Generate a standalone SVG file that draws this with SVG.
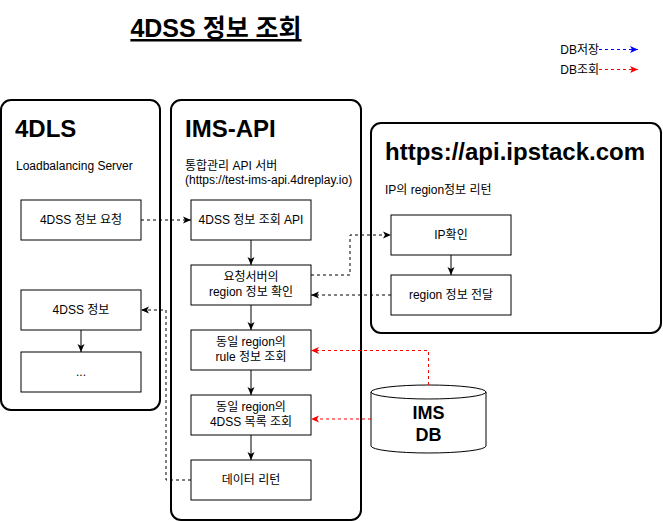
<svg xmlns="http://www.w3.org/2000/svg" width="663" height="522" viewBox="0 0 663 522">
<style>
text{font-family:"Liberation Sans","Noto Sans CJK KR",sans-serif;fill:#000}
.container{fill:#fff;stroke:#000;stroke-width:2}
.box{fill:#fff;stroke:#000;stroke-width:1}
.t12{font-size:12px}
.c{text-anchor:middle}
.h{font-size:24px;font-weight:bold}
.solid{fill:none;stroke:#000;stroke-width:1}
.dash{fill:none;stroke:#000;stroke-width:1;stroke-dasharray:3 3}
.red{fill:none;stroke:#FF0000;stroke-width:1;stroke-dasharray:3 3}
.blue{fill:none;stroke:#0000FF;stroke-width:1;stroke-dasharray:3 3}
</style>
<defs>
<marker id="ak" markerUnits="userSpaceOnUse" markerWidth="10" markerHeight="10" refX="8" refY="4" orient="auto"><path d="M0,0.5 L8,4 L0,7.5 L2,4 Z" fill="#000"/></marker>
<marker id="ar" markerUnits="userSpaceOnUse" markerWidth="10" markerHeight="10" refX="8" refY="4" orient="auto"><path d="M0,0.5 L8,4 L0,7.5 L2,4 Z" fill="#FF0000"/></marker>
<marker id="ab" markerUnits="userSpaceOnUse" markerWidth="10" markerHeight="10" refX="8" refY="4" orient="auto"><path d="M0,0.5 L8,4 L0,7.5 L2,4 Z" fill="#0000FF"/></marker>
</defs>
<rect width="663" height="522" fill="#fff"/>

<g id="title">
<text x="216" y="37" class="c" style="font-size:25px;font-weight:bold;text-decoration:underline">4DSS 정보 조회</text>
</g>

<g id="legend">
<text x="599" y="54" style="font-size:12px" text-anchor="end">DB저장</text>
<line x1="599" y1="49.5" x2="638" y2="49.5" class="blue" marker-end="url(#ab)"/>
<text x="599" y="74" style="font-size:12px" text-anchor="end">DB조회</text>
<line x1="599" y1="69.5" x2="638" y2="69.5" class="red" marker-end="url(#ar)"/>
</g>

<g id="c-4dls">
<rect x="1" y="100" width="159" height="310" rx="10" class="container"/>
<text x="15" y="137" class="h">4DLS</text>
<text x="16" y="170" class="t12">Loadbalancing Server</text>
</g>

<g id="c-imsapi">
<rect x="171" y="100" width="190" height="420" rx="10" class="container"/>
<text x="185" y="137" class="h">IMS-API</text>
<text x="185" y="170" class="t12">통합관리 API 서버</text>
<text x="185" y="184" class="t12">(https://test-ims-api.4dreplay.io)</text>
</g>

<g id="c-ipstack">
<rect x="371" y="123" width="290" height="210" rx="10" class="container"/>
<text x="385" y="160" class="h">https://api.ipstack.com</text>
<text x="385" y="194" class="t12">IP의 region정보 리턴</text>
</g>

<g id="n-req">
<rect x="21" y="200" width="120" height="40" class="box"/>
<text x="81" y="224" class="t12 c">4DSS 정보 요청</text>
</g>
<g id="n-info">
<rect x="21" y="290" width="120" height="40" class="box"/>
<text x="81" y="314" class="t12 c">4DSS 정보</text>
</g>
<g id="n-etc">
<rect x="21" y="352" width="120" height="40" class="box"/>
<text x="81" y="376" class="t12 c">...</text>
</g>

<g id="n-api">
<rect x="191" y="200" width="120" height="40" class="box"/>
<text x="251" y="224" class="t12 c">4DSS 정보 조회 API</text>
</g>
<g id="n-region">
<rect x="191" y="265" width="120" height="40" class="box"/>
<text x="251" y="281" class="t12 c">요청서버의</text>
<text x="251" y="296" class="t12 c">region 정보 확인</text>
</g>
<g id="n-rule">
<rect x="191" y="330" width="120" height="40" class="box"/>
<text x="251" y="346" class="t12 c">동일 region의</text>
<text x="251" y="361" class="t12 c">rule 정보 조회</text>
</g>
<g id="n-list">
<rect x="191" y="395" width="120" height="40" class="box"/>
<text x="251" y="411" class="t12 c">동일 region의</text>
<text x="251" y="426" class="t12 c">4DSS 목록 조회</text>
</g>
<g id="n-return">
<rect x="191" y="460" width="120" height="40" class="box"/>
<text x="251" y="484" class="t12 c">데이터 리턴</text>
</g>

<g id="n-ip">
<rect x="391" y="215" width="120" height="40" class="box"/>
<text x="451" y="239" class="t12 c">IP확인</text>
</g>
<g id="n-send">
<rect x="391" y="275" width="120" height="40" class="box"/>
<text x="451" y="299" class="t12 c">region 정보 전달</text>
</g>

<g id="n-db">
<path d="M371,392 A57.5,7 0 0,1 486,392 V446 A57.5,7 0 0,1 371,446 Z" fill="#fff" stroke="#000" stroke-width="1"/>
<path d="M371,392 A57.5,7 0 0,0 486,392" fill="none" stroke="#000" stroke-width="1"/>
<text x="428.5" y="419" class="c" style="font-size:18px;font-weight:bold">IMS</text>
<text x="428.5" y="441" class="c" style="font-size:18px;font-weight:bold">DB</text>
</g>

<g id="connectors">
<line x1="141" y1="220" x2="191" y2="220" class="dash" marker-end="url(#ak)"/>
<line x1="251" y1="240" x2="251" y2="265" class="solid" marker-end="url(#ak)"/>
<line x1="251" y1="305" x2="251" y2="330" class="solid" marker-end="url(#ak)"/>
<line x1="251" y1="370" x2="251" y2="395" class="solid" marker-end="url(#ak)"/>
<line x1="251" y1="435" x2="251" y2="460" class="solid" marker-end="url(#ak)"/>
<line x1="81" y1="330" x2="81" y2="352" class="solid" marker-end="url(#ak)"/>
<line x1="451" y1="255" x2="451" y2="275" class="solid" marker-end="url(#ak)"/>
<polyline points="311,275 350,275 350,235 391,235" class="dash" marker-end="url(#ak)"/>
<line x1="391" y1="295" x2="311" y2="295" class="dash" marker-end="url(#ak)"/>
<polyline points="191,480 166,480 166,310 141,310" class="dash" marker-end="url(#ak)"/>
<polyline points="428.5,385 428.5,350.5 311,350.5" class="red" marker-end="url(#ar)"/>
<line x1="371" y1="419" x2="311" y2="419" class="red" marker-end="url(#ar)"/>
</g>
</svg>
